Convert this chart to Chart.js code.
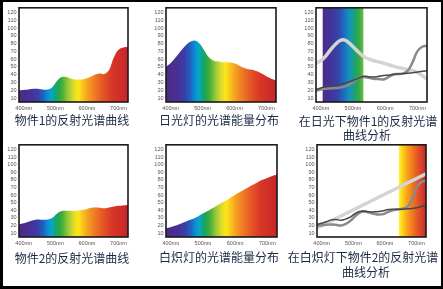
<!DOCTYPE html>
<html>
<head>
<meta charset="utf-8">
<script src="https://cdn.jsdelivr.net/npm/chart.js@4/dist/chart.umd.min.js"></script>
<style>
  html, body { margin: 0; padding: 0; background: #fff; }
  #frame { position: relative; width: 443px; height: 289px; overflow: hidden; background: #fff; }
  #border { position: absolute; left: 0; top: 0; width: 443px; height: 289px; box-sizing: border-box;
            border-style: solid; border-color: #000; border-width: 2px 2px 3px 3px; pointer-events: none; z-index: 5; }
  .panel { position: absolute; }
  .title { position: absolute; transform: translate(-50%, -50%); white-space: nowrap;
           font-family: "Noto Sans CJK SC", "Noto Sans", sans-serif; font-size: 12px; line-height: 1; color: #1b2a44; }
</style>
</head>
<body>
<div id="frame"><div id="border"></div></div>
<script>
// Wavelength grid (nm) shared by every spectral curve
const wavelengths = [385, 400, 415, 430, 445, 460, 475, 490, 505, 520, 535, 550,
                     565, 580, 595, 610, 625, 640, 655, 670, 685, 700, 715, 730];
const xTickValues = [400, 500, 600, 700];
const yTickValues = [10, 20, 30, 40, 50, 60, 70, 80, 90, 100, 110, 120];

// Reflectance of object 1
const object1Reflect = [20, 20.5, 21, 22, 22, 21, 21, 24, 32, 37, 37, 35,
                        34, 34, 35, 37, 40, 41.5, 41, 46, 62, 72, 75, 76];
// Fluorescent daylight lamp energy
const daylightEnergy = [50, 55, 62, 70, 77, 82, 84, 80, 71, 62, 58, 57,
                        56, 56, 55, 53, 49.5, 47.5, 46.5, 44.5, 41.5, 38, 35, 33];
// Reflectance of object 2
const object2Reflect = [21.5, 23, 25, 27, 28, 27.5, 28, 30, 35.5, 39, 39.5, 39.3,
                        39.3, 40, 41, 43, 43.6, 43.5, 42.8, 43.8, 45, 46, 46.5, 47];
// Incandescent lamp energy
const incandescentEnergy = [16, 18, 20, 22.5, 25, 27.5, 30, 33.5, 37, 40.5, 44, 48,
                            51.5, 55, 59, 63, 66.5, 70, 73.5, 77, 80, 82.5, 85, 87];

// Object 1 under daylight
const daylightCurve = [55, 58, 64, 72, 79, 84, 84.5, 80, 74, 68, 63, 60,
                       58, 56.5, 55, 53, 51, 49.5, 48, 47, 45.5, 43, 39, 34];
const object1Curve = [19.5, 21, 22, 22.5, 23, 23.5, 25, 28, 32, 36, 37, 36,
                      35, 34.5, 34, 37, 40, 41, 41.5, 45, 56, 70, 76, 77];
const daylightResult = [21, 23, 25, 26, 27, 27.5, 29, 31, 33.5, 36, 38, 37.5,
                        37, 38, 39, 39.5, 40.5, 41, 41.5, 42, 42.5, 43.5, 44.5, 45];
const daylightBandNm = [405, 533];

// Object 2 under incandescent light
const lampLineNm = [385, 730];
const lampLineVal = [17, 88];
const object2Curve = [20, 20.5, 21, 21.5, 21, 20, 22, 26, 32, 37, 38.5, 37,
                      35.5, 34.5, 35, 38, 40, 41, 42, 44, 53, 70, 77, 79];
const lampResult = [21.5, 23, 25, 27.5, 28, 27, 28.5, 31, 35.5, 38.5, 39, 38,
                    38, 38.5, 39.5, 41, 41.5, 41.5, 41.5, 42, 42.5, 43.5, 45, 46.5];
const lampBandNm = [643, 730];
const bandTop = [126, 126];

// Colour stops of the visible spectrum (nm, colour)
const spectrumStops = [
  [385, '#4b2a85'], [420, '#4a2f95'], [445, '#3840a8'], [462, '#1f63bf'],
  [476, '#0a8fd6'], [488, '#08a6c4'], [498, '#0fa58a'], [508, '#1ea650'],
  [522, '#45ae3a'], [540, '#98c83a'], [558, '#dcdc2a'], [572, '#fbe716'],
  [586, '#f9c51c'], [602, '#f5a021'], [625, '#ef7a24'], [650, '#e55626'],
  [680, '#d83626'], [730, '#c6262a']
];
const coolBandStops = [
  [0, '#4a2b8c'], [0.2, '#45329a'], [0.38, '#3545aa'], [0.52, '#1f6bbf'],
  [0.64, '#1490c0'], [0.76, '#1aa080'], [0.88, '#32a848'], [1, '#6cc048']
];
const warmBandStops = [
  [0, '#fff25a'], [0.1, '#fde019'], [0.3, '#f9a81a'], [0.5, '#f07a1e'],
  [0.72, '#e2502a'], [1, '#c8282a']
];

const X_MIN = 385, X_MAX = 730, Y_MIN = 5, Y_MAX = 126;
const tickFont = { family: '"Liberation Sans", Arial, sans-serif', size: 5.5 };
const tickColor = '#555';

const toPoints = (xs, ys) => xs.map((x, i) => ({ x, y: ys[i] }));

function spectrumFill(context) {
  const chart = context.chart;
  if (!chart.chartArea) return 'transparent';
  const sx = chart.scales.x;
  const x0 = sx.getPixelForValue(X_MIN), x1 = sx.getPixelForValue(X_MAX);
  const g = chart.ctx.createLinearGradient(x0, 0, x1, 0);
  spectrumStops.forEach(([nm, c]) => g.addColorStop((nm - X_MIN) / (X_MAX - X_MIN), c));
  return g;
}

function bandFill(stops, span) {
  return (context) => {
    const chart = context.chart;
    if (!chart.chartArea) return 'transparent';
    const sx = chart.scales.x;
    const g = chart.ctx.createLinearGradient(sx.getPixelForValue(span[0]), 0, sx.getPixelForValue(span[1]), 0);
    stops.forEach(([t, c]) => g.addColorStop(t, c));
    return g;
  };
}

const boxFrame = {
  id: 'boxFrame',
  afterDatasetsDraw(chart) {
    const { ctx, chartArea: a } = chart;
    ctx.save();
    ctx.strokeStyle = '#1a1a1a';
    ctx.lineWidth = 1.6;
    ctx.strokeRect(a.left, a.top, a.right - a.left, a.bottom - a.top);
    ctx.restore();
  }
};

const frame = document.getElementById('frame');

function areaSet(values) {
  return { data: toPoints(wavelengths, values), fill: 'start', backgroundColor: spectrumFill,
           borderWidth: 0, tension: 0.4, pointRadius: 0 };
}
function lineSet(xs, values, color, width, order) {
  return { data: toPoints(xs, values), fill: false, borderColor: color, borderWidth: width,
           tension: 0.4, pointRadius: 0, order, borderCapStyle: 'round', borderJoinStyle: 'round' };
}
function bandSet(span, stops) {
  return { data: toPoints(span, bandTop), fill: 'start', backgroundColor: bandFill(stops, span),
           borderWidth: 0, tension: 0, pointRadius: 0, order: 10 };
}

function makePanel(box, datasets) {
  const yW = 18, padTop = 4, padRight = 3, xH = 14;
  const W = yW + box.w + padRight, H = padTop + box.h + xH;
  const holder = document.createElement('div');
  holder.className = 'panel';
  holder.style.left = (box.x - yW) + 'px';
  holder.style.top = (box.y - padTop) + 'px';
  holder.style.width = W + 'px';
  holder.style.height = H + 'px';
  const canvas = document.createElement('canvas');
  canvas.width = W; canvas.height = H;
  canvas.style.width = W + 'px'; canvas.style.height = H + 'px';
  holder.appendChild(canvas);
  frame.appendChild(holder);

  new Chart(canvas, {
    type: 'line',
    data: { datasets },
    options: {
      responsive: false,
      animation: false,
      devicePixelRatio: 1,
      layout: { padding: { top: padTop, right: padRight, left: 0, bottom: 0 } },
      plugins: { legend: { display: false }, tooltip: { enabled: false } },
      elements: { point: { radius: 0 } },
      scales: {
        x: {
          type: 'linear', min: X_MIN, max: X_MAX,
          grid: { display: false, drawTicks: false },
          border: { display: false },
          afterBuildTicks: (s) => { s.ticks = xTickValues.map(v => ({ value: v })); },
          afterFit: (s) => { s.height = xH; },
          ticks: { padding: 3, font: tickFont, color: tickColor, maxRotation: 0, autoSkip: false,
                   callback: (v) => v + 'nm' }
        },
        y: {
          min: Y_MIN, max: Y_MAX,
          grid: { display: false, drawTicks: false },
          border: { display: false },
          afterBuildTicks: (s) => { s.ticks = yTickValues.map(v => ({ value: v })); },
          afterFit: (s) => { s.width = yW; },
          ticks: { padding: 2.5, font: tickFont, color: tickColor, autoSkip: false }
        }
      }
    },
    plugins: [boxFrame]
  });
}

function addTitle(text, cx, cy) {
  const t = document.createElement('div');
  t.className = 'title';
  t.textContent = text;
  t.style.left = cx + 'px';
  t.style.top = cy + 'px';
  frame.appendChild(t);
}

// Top row
makePanel({ x: 19, y: 6, w: 109, h: 96 }, [areaSet(object1Reflect)]);
makePanel({ x: 166, y: 6, w: 110, h: 96 }, [areaSet(daylightEnergy)]);
makePanel({ x: 316, y: 6, w: 111, h: 96 }, [
  bandSet(daylightBandNm, coolBandStops),
  lineSet(wavelengths, daylightCurve, '#d4d4d4', 3.5, 3),
  lineSet(wavelengths, object1Curve, '#8a8a8a', 2.5, 2),
  lineSet(wavelengths, daylightResult, '#474747', 1.5, 1)
]);

// Bottom row
makePanel({ x: 19, y: 143, w: 109, h: 94 }, [areaSet(object2Reflect)]);
makePanel({ x: 166, y: 143, w: 111, h: 94 }, [areaSet(incandescentEnergy)]);
makePanel({ x: 317, y: 143, w: 109, h: 94 }, [
  bandSet(lampBandNm, warmBandStops),
  lineSet(lampLineNm, lampLineVal, '#d4d4d4', 3.5, 3),
  lineSet(wavelengths, object2Curve, '#8a8a8a', 2.5, 2),
  lineSet(wavelengths, lampResult, '#474747', 1.5, 1)
]);

addTitle('物件1的反射光谱曲线', 72, 120);
addTitle('日光灯的光谱能量分布', 219, 120);
addTitle('在日光下物件1的反射光谱', 368, 120.5);
addTitle('曲线分析', 367, 135);
addTitle('物件2的反射光谱曲线', 72, 257.5);
addTitle('白炽灯的光谱能量分布', 219, 257);
addTitle('在白炽灯下物件2的反射光谱', 363, 256.5);
addTitle('曲线分析', 366, 271.5);
</script>
</body>
</html>
